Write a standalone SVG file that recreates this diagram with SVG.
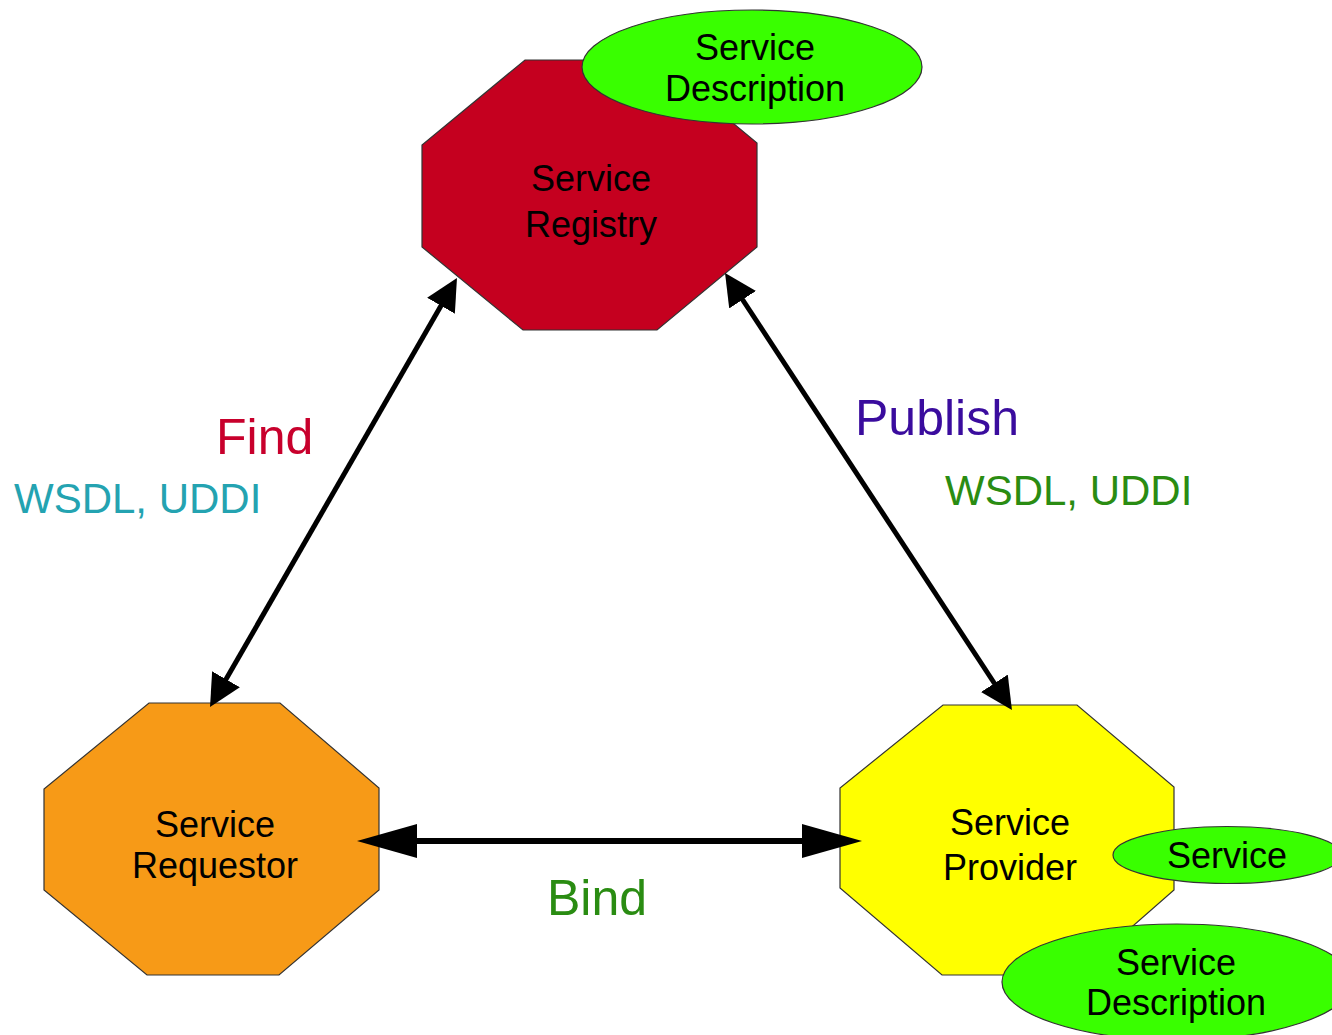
<svg xmlns="http://www.w3.org/2000/svg" width="1332" height="1035" viewBox="0 0 1332 1035">
<style>
.node{stroke:#333;stroke-width:1.2}
.ell{fill:#39ff00;stroke:#333;stroke-width:1.2}
.t{font-family:"Liberation Sans",Arial,sans-serif;font-size:36px;fill:#000;text-anchor:middle}
.lbl{font-family:"Liberation Sans",Arial,sans-serif;font-size:50px}
.sub{font-family:"Liberation Sans",Arial,sans-serif;font-size:42px}
.con{stroke:#000;fill:none}
</style>
<defs>
<marker id="ah" markerUnits="userSpaceOnUse" viewBox="0 0 32 32" markerWidth="32" markerHeight="32" refX="2" refY="16" orient="auto-start-reverse"><path d="M0,0 L32,16 L0,32 z" fill="#000"/></marker>
<marker id="ahb" markerUnits="userSpaceOnUse" viewBox="0 0 60 34" markerWidth="60" markerHeight="34" refX="2" refY="17" orient="auto-start-reverse"><path d="M0,0 L60,17 L0,34 z" fill="#000"/></marker>
</defs>
<rect width="1332" height="1035" fill="#fff"/>
<g id="registry">
<polygon class="node" fill="#c5001f" points="525,60 657,60 757,143 757,247 657,330 523,330 422,247 422,145"/>
<text class="t" x="591" y="191">Service</text>
<text class="t" x="591" y="237">Registry</text>
</g>
<g id="registry-description">
<ellipse class="ell" cx="752" cy="67" rx="170" ry="57"/>
<text class="t" x="755" y="60">Service</text>
<text class="t" x="755" y="101">Description</text>
</g>
<g id="requestor">
<polygon class="node" fill="#f79a17" points="149,703 280,703 379,788 379,890 279,975 147,975 44,890 44,789"/>
<text class="t" x="215" y="837">Service</text>
<text class="t" x="215" y="878">Requestor</text>
</g>
<g id="provider">
<polygon class="node" fill="#ffff00" points="943,705 1077,705 1174,787 1174,890 1077,975 942,975 840,888 840,788"/>
<text class="t" x="1010" y="835">Service</text>
<text class="t" x="1010" y="880">Provider</text>
</g>
<g id="service">
<ellipse class="ell" cx="1227" cy="855" rx="114" ry="28.5"/>
<text class="t" x="1227" y="868">Service</text>
</g>
<g id="provider-description">
<ellipse class="ell" cx="1177" cy="982" rx="175" ry="58"/>
<text class="t" x="1176" y="975">Service</text>
<text class="t" x="1176" y="1015">Description</text>
</g>
<g id="connectors">
<line class="con" stroke-width="5" x1="442" y1="304" x2="225" y2="681" marker-start="url(#ah)" marker-end="url(#ah)"/>
<line class="con" stroke-width="5" x1="741.5" y1="298" x2="995.5" y2="685" marker-start="url(#ah)" marker-end="url(#ah)"/>
<line class="con" stroke-width="6" x1="415" y1="841" x2="804" y2="841" marker-start="url(#ahb)" marker-end="url(#ahb)"/>
</g>
<g id="labels">
<text class="lbl" x="216" y="454" fill="#c8002c">Find</text>
<text class="sub" x="14" y="513" fill="#24a3b1">WSDL, UDDI</text>
<text class="lbl" x="855" y="435" fill="#3a0c9e">Publish</text>
<text class="sub" x="945" y="505" fill="#2a8c12">WSDL, UDDI</text>
<text class="lbl" x="547" y="915" fill="#2a8c12">Bind</text>
</g>
</svg>
